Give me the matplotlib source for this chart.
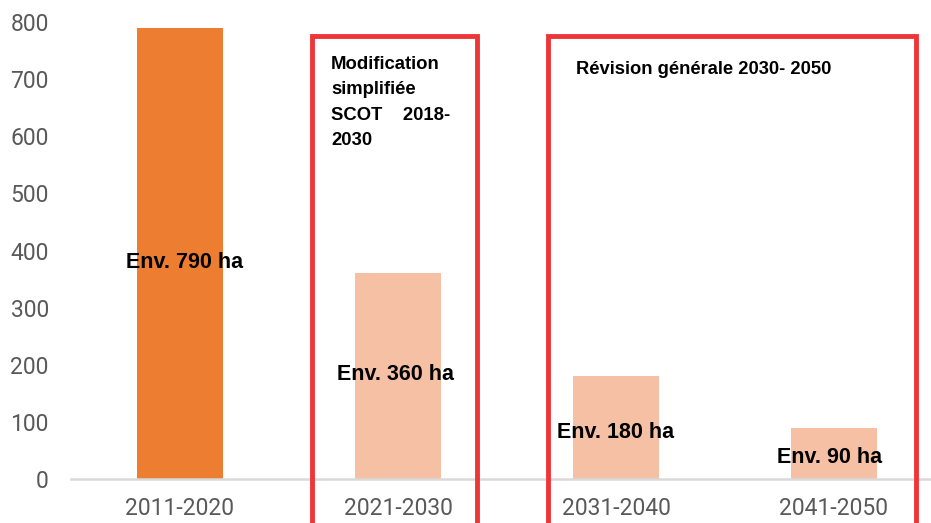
import matplotlib.pyplot as plt
from matplotlib.patches import Rectangle

periods = ["2011-2020", "2021-2030", "2031-2040", "2041-2050"]
hectares = [790, 360, 180, 90]
labels = ["Env. 790 ha", "Env. 360 ha", "Env. 180 ha", "Env. 90 ha"]
label_y = [379, 183, 82, 37]
label_dx = [0.02, -0.01, 0.0, -0.02]
bar_colors = ["#ED7D31", "#F5C0A4", "#F5C0A4", "#F5C0A4"]
box_texts = ["Modification\nsimplifiée\nSCOT    2018-\n2030", "Révision générale 2030- 2050"]

W, H = 931, 523
fig = plt.figure(figsize=(W / 100, H / 100), dpi=100)
ax = fig.add_axes([71 / W, 44 / H, 872 / W, 457 / H])

x = range(len(periods))
ax.bar(x, hectares, width=0.395, color=bar_colors, zorder=2)
ax.set_xlim(-0.5, 3.5)
ax.set_ylim(0, 800)
ax.set_yticks(range(0, 801, 100))
ax.set_xticks(list(x))
ax.set_xticklabels(periods)
for s in ["top", "right", "left"]:
    ax.spines[s].set_visible(False)
ax.spines["bottom"].set_color("#D9D9D9")
ax.spines["bottom"].set_linewidth(1.8)
ax.tick_params(axis="both", length=0, labelcolor="#595959", labelsize=16.5)
ax.tick_params(axis="y", pad=16)
ax.tick_params(axis="x", pad=13)
for t in ax.get_xticklabels() + ax.get_yticklabels():
    t.set_family("Roboto")

for i, (lab, yy) in enumerate(zip(labels, label_y)):
    ax.text(i + label_dx[i], yy, lab, ha="center", va="center",
            fontsize=15.5, fontweight="bold", family="Liberation Sans", zorder=3)

# red boxes (pixel layout)
red = "#EE3537"
for (x0, x1) in [(312, 477), (548, 916)]:
    fig.patches.append(Rectangle((x0 / W, -0.05), (x1 - x0) / W, (H - 36) / H + 0.05,
                                 transform=fig.transFigure, fill=False,
                                 edgecolor=red, linewidth=3.5, zorder=5))

fig.text(331 / W, 1 - 56 / H, box_texts[0], ha="left", va="top", fontsize=13.3,
         fontweight="bold", family="Liberation Sans", linespacing=1.65)
fig.text(576 / W, 1 - 70 / H, box_texts[1], ha="left", va="center", fontsize=13.2,
         fontweight="bold", family="Liberation Sans")

fig.savefig("out.png", dpi=100)
